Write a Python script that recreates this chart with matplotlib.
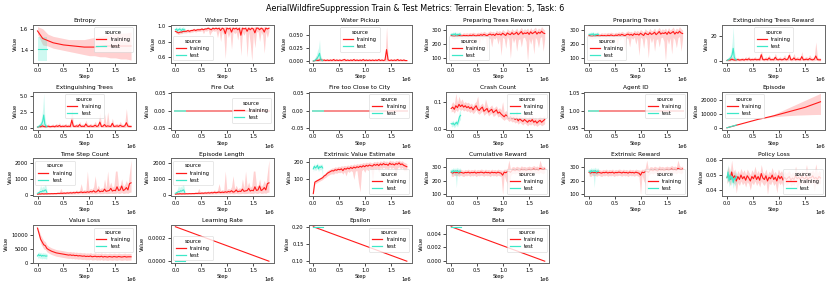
import numpy as np
import matplotlib
matplotlib.use("Agg")
import matplotlib.pyplot as plt
from matplotlib.lines import Line2D
from matplotlib.ticker import FormatStrFormatter

# ---------------- step grids ----------------
train_steps = np.arange(61) * 30000          # 0 .. 1.8e6
test_steps = np.arange(10) * 20000           # 0 .. 0.18e6
coarse_steps = np.arange(19) * 100000        # 0 .. 1.8e6
episode_steps = np.arange(13) * 150000       # 0 .. 1.8e6
line_steps = [0, 1800000]
line_test_steps = [0, 180000]

# ---------------- Entropy ----------------
entropy_train = [1.58, 1.51, 1.49, 1.47, 1.46, 1.45, 1.445, 1.44, 1.435, 1.43, 1.43, 1.43, 1.435, 1.44, 1.44, 1.44, 1.44, 1.44, 1.44]
entropy_train_lo = [1.55, 1.45, 1.44, 1.42, 1.41, 1.40, 1.39, 1.38, 1.37, 1.36, 1.35, 1.35, 1.34, 1.34, 1.33, 1.33, 1.32, 1.32, 1.31]
entropy_train_hi = [1.62, 1.60, 1.55, 1.53, 1.52, 1.51, 1.50, 1.50, 1.50, 1.50, 1.51, 1.52, 1.53, 1.54, 1.55, 1.55, 1.56, 1.56, 1.57]
entropy_test = [1.41, 1.41, 1.41, 1.41, 1.41, 1.41, 1.41, 1.41, 1.41, 1.41]
entropy_test_lo = [1.30, 1.30, 1.30, 1.30, 1.30, 1.30, 1.30, 1.30, 1.30, 1.30]
entropy_test_hi = [1.52, 1.52, 1.52, 1.52, 1.52, 1.52, 1.52, 1.52, 1.52, 1.52]

# ---------------- Water Drop ----------------
water_drop_train = [0.93, 0.92, 0.91, 0.92, 0.92, 0.93, 0.93, 0.93, 0.94, 0.93,
                    0.94, 0.94, 0.95, 0.94, 0.95, 0.95, 0.95, 0.96, 0.95, 0.96,
                    0.96, 0.97, 0.96, 0.95, 0.97, 0.96, 0.97, 0.96, 0.97, 0.94,
                    0.97, 0.96, 0.90, 0.97, 0.96, 0.97, 0.92, 0.97, 0.96, 0.97,
                    0.95, 0.97, 0.88, 0.97, 0.96, 0.97, 0.93, 0.97, 0.95, 0.97,
                    0.96, 0.91, 0.97, 0.97, 0.95, 0.97, 0.96, 0.92, 0.97, 0.96,
                    0.97]
water_drop_train_lo = [0.91, 0.90, 0.89, 0.90, 0.90, 0.91, 0.91, 0.91, 0.92, 0.91,
                       0.92, 0.92, 0.93, 0.92, 0.93, 0.93, 0.93, 0.94, 0.90, 0.94,
                       0.93, 0.95, 0.88, 0.92, 0.94, 0.93, 0.94, 0.85, 0.94, 0.80,
                       0.93, 0.88, 0.58, 0.93, 0.85, 0.92, 0.70, 0.93, 0.90, 0.92,
                       0.82, 0.93, 0.62, 0.92, 0.88, 0.93, 0.60, 0.92, 0.78, 0.55,
                       0.90, 0.72, 0.92, 0.93, 0.80, 0.92, 0.88, 0.65, 0.92, 0.85,
                       0.93]
water_drop_train_hi = [0.95, 0.94, 0.93, 0.94, 0.94, 0.95, 0.95, 0.95, 0.96, 0.95,
                       0.96, 0.96, 0.97, 0.96, 0.97, 0.97, 0.97, 0.98, 0.97, 0.98,
                       0.98, 0.99, 0.98, 0.97, 0.99, 0.98, 0.99, 0.98, 0.99, 0.98,
                       0.99, 0.98, 0.99, 0.99, 0.98, 0.99, 0.98, 0.99, 0.98, 0.99,
                       0.98, 0.99, 0.98, 0.99, 0.98, 0.99, 0.98, 0.99, 0.98, 0.99,
                       0.98, 0.99, 0.99, 0.99, 0.98, 0.99, 0.98, 0.99, 0.99, 0.98,
                       0.99]
water_drop_test = [0.95, 0.96, 0.94, 0.95, 0.96, 0.95, 0.94, 0.96, 0.95, 0.95]
water_drop_test_lo = [0.92, 0.93, 0.91, 0.92, 0.93, 0.92, 0.91, 0.93, 0.92, 0.92]
water_drop_test_hi = [0.98, 0.99, 0.97, 0.98, 0.99, 0.98, 0.97, 0.99, 0.98, 0.98]

# ---------------- Water Pickup ----------------
water_pickup_train = [0.000, 0.001, 0.002, 0.001, 0.002, 0.003, 0.001, 0.002, 0.001, 0.002,
                      0.001, 0.002, 0.001, 0.003, 0.001, 0.002, 0.001, 0.002, 0.001, 0.002,
                      0.003, 0.001, 0.002, 0.001, 0.002, 0.001, 0.003, 0.001, 0.002, 0.001,
                      0.002, 0.001, 0.003, 0.001, 0.002, 0.001, 0.002, 0.001, 0.002, 0.001,
                      0.002, 0.001, 0.003, 0.001, 0.002, 0.001, 0.002, 0.022, 0.002, 0.001,
                      0.002, 0.001, 0.002, 0.001, 0.003, 0.001, 0.002, 0.001, 0.002, 0.001,
                      0.001]
water_pickup_train_lo = [0.0, 0.0, 0.0, 0.0, 0.0, 0.0, 0.0, 0.0, 0.0, 0.0,
                         0.0, 0.0, 0.0, 0.0, 0.0, 0.0, 0.0, 0.0, 0.0, 0.0,
                         0.0, 0.0, 0.0, 0.0, 0.0, 0.0, 0.0, 0.0, 0.0, 0.0,
                         0.0, 0.0, 0.0, 0.0, 0.0, 0.0, 0.0, 0.0, 0.0, 0.0,
                         0.0, 0.0, 0.0, 0.0, 0.0, 0.0, 0.0, 0.0, 0.0, 0.0,
                         0.0, 0.0, 0.0, 0.0, 0.0, 0.0, 0.0, 0.0, 0.0, 0.0,
                         0.0]
water_pickup_train_hi = [0.002, 0.004, 0.010, 0.004, 0.008, 0.007, 0.004, 0.005, 0.003, 0.005,
                         0.003, 0.005, 0.003, 0.006, 0.003, 0.005, 0.003, 0.005, 0.003, 0.005,
                         0.006, 0.003, 0.005, 0.003, 0.005, 0.003, 0.006, 0.003, 0.005, 0.003,
                         0.005, 0.003, 0.006, 0.003, 0.005, 0.003, 0.005, 0.003, 0.005, 0.003,
                         0.005, 0.003, 0.006, 0.003, 0.005, 0.003, 0.005, 0.066, 0.005, 0.003,
                         0.005, 0.003, 0.005, 0.003, 0.006, 0.003, 0.005, 0.003, 0.005, 0.003,
                         0.002]
water_pickup_test = [0.000, 0.001, 0.002, 0.004, 0.006, 0.010, 0.015, 0.004, 0.002, 0.001]
water_pickup_test_lo = [0.0, 0.0, 0.0, 0.0, 0.0, 0.0, 0.001, 0.0, 0.0, 0.0]
water_pickup_test_hi = [0.002, 0.004, 0.008, 0.012, 0.020, 0.025, 0.041, 0.012, 0.006, 0.003]

# ---------------- Preparing Trees (Reward) ----------------
prep_train = [262, 258, 255, 260, 258, 262, 260, 258, 263, 260,
              262, 258, 264, 260, 266, 262, 258, 265, 262, 268,
              263, 270, 265, 260, 268, 272, 265, 270, 262, 275,
              268, 272, 265, 278, 270, 262, 280, 272, 268, 282,
              270, 275, 285, 268, 278, 290, 272, 280, 276, 284,
              270, 288, 275, 282, 290, 272, 285, 278, 292, 280,
              276]
prep_train_lo = [245, 240, 235, 242, 240, 245, 240, 238, 245, 240,
                 240, 225, 245, 238, 200, 240, 230, 245, 190, 245,
                 230, 248, 240, 150, 245, 240, 180, 248, 235, 250,
                 200, 245, 120, 250, 240, 170, 255, 230, 100, 250,
                 210, 245, 150, 230, 240, 180, 245, 250, 220, 80,
                 240, 200, 245, 130, 250, 230, 175, 245, 255, 150,
                 240]
prep_train_hi = [280, 275, 275, 278, 276, 280, 278, 276, 282, 278,
                 282, 278, 284, 280, 286, 282, 278, 285, 282, 288,
                 283, 292, 285, 280, 290, 295, 288, 292, 282, 300,
                 290, 298, 288, 305, 295, 285, 310, 298, 292, 312,
                 295, 300, 315, 292, 305, 320, 298, 310, 302, 315,
                 295, 318, 300, 310, 322, 298, 315, 305, 325, 310,
                 300]
prep_test = [270, 265, 272, 268, 275, 262, 270, 266, 272, 268]
prep_test_lo = [255, 250, 258, 252, 260, 245, 255, 250, 258, 252]
prep_test_hi = [285, 282, 288, 284, 290, 280, 286, 282, 288, 284]

# ---------------- Extinguishing Trees Reward ----------------
ext_reward_train = [0.5, 1.0, 0.8, 1.5, 1.0, 0.8, 1.0, 1.2, 0.8, 1.0,
                    1.2, 0.8, 1.5, 1.0, 1.8, 0.9, 1.2, 1.0, 1.5, 1.0,
                    1.2, 1.0, 5.0, 1.2, 1.0, 1.5, 1.0, 2.5, 1.0, 1.2,
                    1.0, 3.0, 1.2, 1.0, 1.5, 1.0, 1.2, 2.0, 1.0, 1.5,
                    4.5, 1.0, 1.2, 2.5, 1.0, 1.5, 1.2, 1.0, 3.5, 1.0,
                    1.2, 1.5, 1.0, 2.0, 1.2, 1.0, 1.5, 4.0, 1.2, 1.0,
                    1.0]
ext_reward_train_lo = [0.0, 0.2, 0.1, 0.3, 0.2, 0.1, 0.2, 0.3, 0.1, 0.2,
                       0.3, 0.1, 0.3, 0.2, 0.4, 0.1, 0.3, 0.2, 0.3, 0.2,
                       0.3, 0.2, 1.0, 0.3, 0.2, 0.3, 0.2, 0.5, 0.2, 0.3,
                       0.2, 0.6, 0.3, 0.2, 0.3, 0.2, 0.3, 0.4, 0.2, 0.3,
                       0.9, 0.2, 0.3, 0.5, 0.2, 0.3, 0.3, 0.2, 0.7, 0.2,
                       0.3, 0.3, 0.2, 0.4, 0.3, 0.2, 0.3, 0.8, 0.3, 0.2,
                       0.2]
ext_reward_train_hi = [1.5, 2.5, 2.0, 3.5, 2.5, 2.0, 2.5, 3.0, 2.0, 2.5,
                       3.0, 2.0, 3.5, 2.5, 4.0, 2.2, 3.0, 2.5, 3.5, 2.5,
                       3.0, 2.5, 9.0, 3.0, 2.5, 3.5, 2.5, 5.0, 2.5, 3.0,
                       2.5, 6.0, 3.0, 2.5, 3.5, 2.5, 3.0, 5.0, 2.5, 3.5,
                       7.0, 2.5, 3.0, 6.0, 2.5, 3.5, 3.0, 2.5, 7.5, 2.5,
                       3.0, 3.5, 2.5, 5.0, 3.0, 2.5, 3.5, 15.0, 3.0, 2.5,
                       2.5]
ext_reward_test = [0.5, 1.0, 1.5, 2.0, 3.0, 5.0, 10.0, 3.0, 1.5, 1.0]
ext_reward_test_lo = [0.0, 0.2, 0.3, 0.5, 0.8, 1.0, 2.0, 0.8, 0.3, 0.2]
ext_reward_test_hi = [1.0, 2.5, 3.5, 5.0, 8.0, 15.0, 27.0, 9.0, 4.0, 2.0]

# ---------------- Extinguishing Trees ----------------
ext_trees_train = [0.10, 0.20, 0.16, 0.30, 0.20, 0.16, 0.20, 0.24, 0.16, 0.20,
                   0.24, 0.16, 0.30, 0.20, 0.36, 0.18, 0.24, 0.20, 0.30, 0.20,
                   0.24, 0.20, 1.20, 0.24, 0.20, 0.30, 0.20, 0.50, 0.20, 0.24,
                   0.20, 0.60, 0.24, 0.20, 0.30, 0.20, 0.24, 0.40, 0.20, 0.30,
                   0.90, 0.20, 0.24, 0.50, 0.20, 0.30, 0.24, 0.20, 0.70, 0.20,
                   0.24, 0.30, 0.20, 0.40, 0.24, 0.20, 0.30, 0.80, 0.24, 0.20,
                   0.20]
ext_trees_train_lo = [0.00, 0.04, 0.02, 0.06, 0.04, 0.02, 0.04, 0.06, 0.02, 0.04,
                      0.06, 0.02, 0.06, 0.04, 0.08, 0.02, 0.06, 0.04, 0.06, 0.04,
                      0.06, 0.04, 0.20, 0.06, 0.04, 0.06, 0.04, 0.10, 0.04, 0.06,
                      0.04, 0.12, 0.06, 0.04, 0.06, 0.04, 0.06, 0.08, 0.04, 0.06,
                      0.18, 0.04, 0.06, 0.10, 0.04, 0.06, 0.06, 0.04, 0.14, 0.04,
                      0.06, 0.06, 0.04, 0.08, 0.06, 0.04, 0.06, 0.16, 0.06, 0.04,
                      0.04]
ext_trees_train_hi = [0.30, 0.50, 0.40, 0.70, 0.50, 0.40, 0.50, 0.60, 0.40, 0.50,
                      0.60, 0.40, 0.70, 0.50, 0.80, 0.44, 0.60, 0.50, 0.70, 0.50,
                      0.60, 0.50, 3.20, 0.60, 0.50, 0.70, 0.50, 1.00, 0.50, 0.60,
                      0.50, 1.20, 0.60, 0.50, 0.70, 0.50, 0.60, 1.00, 0.50, 0.70,
                      2.40, 0.50, 0.60, 2.20, 0.50, 2.50, 0.60, 0.50, 1.50, 0.50,
                      0.60, 0.70, 0.50, 1.00, 0.60, 0.50, 0.70, 3.00, 0.60, 0.50,
                      0.50]
ext_trees_test = [0.10, 0.20, 0.30, 0.40, 0.60, 1.00, 2.00, 0.60, 0.30, 0.20]
ext_trees_test_lo = [0.00, 0.04, 0.06, 0.10, 0.16, 0.20, 0.40, 0.16, 0.06, 0.04]
ext_trees_test_hi = [0.20, 0.50, 0.70, 1.00, 1.60, 3.00, 5.40, 1.80, 0.80, 0.40]

# ---------------- Crash Count ----------------
crash_train = [0.075, 0.080, 0.072, 0.085, 0.078, 0.090, 0.082, 0.088, 0.080, 0.085,
               0.078, 0.082, 0.075, 0.080, 0.070, 0.078, 0.085, 0.072, 0.068, 0.075,
               0.080, 0.065, 0.070, 0.075, 0.062, 0.068, 0.072, 0.060, 0.065, 0.070,
               0.058, 0.062, 0.055, 0.050, 0.045, 0.052, 0.048, 0.040, 0.045, 0.038,
               0.042, 0.035, 0.040, 0.030, 0.038, 0.032, 0.028, 0.035, 0.030, 0.025,
               0.032, 0.028, 0.035, 0.025, 0.030, 0.022, 0.028, 0.032, 0.025, 0.030,
               0.035]
crash_train_lo = [0.062, 0.066, 0.058, 0.070, 0.064, 0.075, 0.068, 0.072, 0.066, 0.070,
                  0.064, 0.067, 0.060, 0.065, 0.056, 0.062, 0.070, 0.058, 0.054, 0.060,
                  0.065, 0.050, 0.056, 0.060, 0.048, 0.054, 0.058, 0.046, 0.050, 0.056,
                  0.044, 0.048, 0.042, 0.036, 0.032, 0.038, 0.035, 0.028, 0.032, 0.026,
                  0.028, 0.022, 0.026, 0.018, 0.025, 0.020, 0.015, 0.022, 0.018, 0.012,
                  0.018, 0.015, 0.020, 0.012, 0.016, 0.010, 0.015, 0.018, 0.012, 0.016,
                  0.020]
crash_train_hi = [0.090, 0.100, 0.090, 0.130, 0.095, 0.120, 0.100, 0.110, 0.095, 0.100,
                  0.095, 0.098, 0.090, 0.095, 0.085, 0.095, 0.100, 0.120, 0.082, 0.090,
                  0.095, 0.080, 0.110, 0.090, 0.076, 0.082, 0.088, 0.075, 0.080, 0.085,
                  0.072, 0.078, 0.070, 0.100, 0.060, 0.068, 0.062, 0.055, 0.060, 0.052,
                  0.058, 0.050, 0.070, 0.045, 0.052, 0.047, 0.042, 0.050, 0.045, 0.040,
                  0.048, 0.042, 0.050, 0.040, 0.045, 0.036, 0.042, 0.048, 0.040, 0.046,
                  0.050]
crash_test = [0.020, 0.018, 0.022, 0.015, 0.020, 0.025, 0.018, 0.030, 0.045, 0.050]
crash_test_lo = [0.010, 0.008, 0.012, 0.005, 0.010, 0.015, 0.008, 0.018, 0.030, 0.035]
crash_test_hi = [0.030, 0.028, 0.032, 0.025, 0.030, 0.035, 0.028, 0.050, 0.065, 0.070]

# ---------------- Episode ----------------
episode_train = [0, 1500, 3000, 4500, 6000, 7200, 8500, 10000, 11500, 13000, 14500, 16500, 18500]
episode_train_lo = [0, 1500, 3000, 4500, 6000, 7000, 7800, 8300, 8700, 9000, 9200, 9400, 9500]
episode_train_hi = [0, 1500, 3000, 4500, 6000, 7500, 9500, 12000, 14500, 17000, 19500, 22000, 24500]
episode_test = [0, 220, 440, 660, 880, 1100, 1320, 1540, 1760, 1980]
episode_test_lo = [0, 200, 400, 600, 800, 1000, 1200, 1400, 1600, 1800]
episode_test_hi = [0, 240, 480, 720, 960, 1200, 1440, 1680, 1920, 2160]

# ---------------- Time Step Count / Episode Length ----------------
tsc_train = [30, 50, 40, 60, 45, 55, 50, 60, 55, 65,
             60, 70, 65, 80, 75, 90, 80, 100, 85, 110,
             95, 120, 100, 130, 110, 150, 120, 140, 170, 130,
             160, 140, 180, 150, 200, 170, 250, 160, 190, 300,
             180, 220, 200, 350, 210, 240, 260, 400, 230, 280,
             250, 500, 270, 300, 550, 260, 320, 450, 300, 700,
             750]
tsc_train_lo = [10, 20, 15, 20, 15, 20, 15, 20, 20, 25,
                20, 25, 20, 30, 25, 30, 30, 35, 30, 40,
                35, 40, 35, 45, 40, 50, 45, 50, 55, 45,
                50, 45, 60, 50, 65, 55, 70, 50, 60, 80,
                55, 65, 60, 90, 65, 70, 75, 100, 70, 80,
                75, 120, 80, 85, 130, 75, 90, 110, 85, 150,
                160]
tsc_train_hi = [60, 100, 80, 120, 90, 110, 100, 120, 110, 130,
                120, 140, 130, 160, 150, 400, 160, 200, 170, 220,
                190, 240, 200, 260, 220, 300, 240, 280, 700, 260,
                320, 280, 1500, 300, 400, 340, 500, 1200, 380, 600,
                360, 440, 400, 1000, 420, 1500, 520, 800, 460, 560,
                1500, 1500, 540, 600, 1000, 520, 640, 900, 600, 1400,
                2200]
tsc_test = [80, 120, 150, 200, 180, 250, 220, 280, 300, 150]
tsc_test_lo = [30, 50, 60, 80, 70, 90, 80, 100, 110, 60]
tsc_test_hi = [150, 250, 350, 600, 400, 550, 450, 650, 600, 300]

# ---------------- Extrinsic Value Estimate ----------------
eve_train = [20, 85, 90, 95, 100, 105, 110, 120, 125, 135,
             140, 145, 150, 148, 155, 152, 158, 155, 160, 150,
             162, 158, 165, 160, 168, 162, 170, 165, 172, 168,
             175, 170, 178, 172, 180, 175, 182, 178, 176, 185,
             180, 186, 178, 188, 182, 190, 184, 186, 180, 192,
             185, 188, 182, 190, 186, 194, 184, 188, 180, 176,
             172]
eve_train_lo = [15, 75, 80, 85, 90, 95, 100, 108, 112, 120,
                125, 130, 132, 130, 138, 135, 140, 138, 142, 130,
                145, 120, 148, 140, 150, 145, 100, 148, 150, 80,
                30, 150, 158, 140, 160, 150, 162, 155, 90, 165,
                155, 165, 140, 168, 160, 170, 162, 165, 155, 172,
                160, 168, 160, 120, 165, 172, 160, 168, 150, 150,
                150]
eve_train_hi = [25, 95, 100, 105, 110, 115, 122, 132, 138, 150,
                155, 160, 165, 165, 172, 168, 175, 172, 178, 175,
                180, 176, 182, 178, 185, 180, 188, 184, 190, 186,
                192, 190, 196, 192, 198, 194, 200, 196, 194, 202,
                198, 204, 196, 206, 200, 208, 202, 204, 198, 210,
                204, 206, 200, 208, 204, 210, 202, 206, 198, 194,
                190]
eve_test = [160, 175, 165, 170, 180, 160, 172, 168, 175, 165]
eve_test_lo = [145, 160, 150, 155, 165, 145, 158, 152, 160, 110]
eve_test_hi = [175, 190, 180, 185, 195, 178, 188, 182, 190, 180]

# ---------------- Cumulative / Extrinsic Reward ----------------
cum_train = [260, 255, 262, 258, 260, 256, 262, 258, 255, 260,
             258, 262, 256, 260, 258, 262, 255, 260, 258, 262,
             260, 256, 262, 258, 260, 255, 262, 258, 260, 256,
             262, 258, 255, 240, 262, 258, 265, 270, 260, 275,
             278, 272, 280, 275, 270, 282, 276, 280, 274, 278,
             282, 276, 280, 285, 278, 282, 275, 290, 284, 280,
             285]
cum_train_lo = [235, 230, 240, 235, 238, 232, 240, 235, 230, 238,
                235, 240, 232, 238, 235, 240, 230, 238, 235, 240,
                238, 232, 240, 235, 238, 230, 240, 235, 238, 232,
                240, 235, 230, 100, 240, 200, 180, 100, 235, 250,
                255, 248, 258, 250, 245, 260, 252, 256, 248, 255,
                258, 250, 256, 262, 252, 258, 248, 262, 255, 250,
                260]
cum_train_hi = [280, 275, 282, 278, 282, 276, 284, 278, 275, 282,
                278, 284, 276, 282, 278, 284, 275, 282, 278, 284,
                282, 276, 284, 278, 282, 275, 284, 278, 282, 276,
                284, 280, 278, 275, 284, 282, 290, 350, 285, 300,
                302, 296, 305, 300, 296, 308, 300, 304, 298, 302,
                306, 300, 304, 310, 302, 306, 300, 350, 308, 302,
                306]
cum_test = [270, 260, 275, 265, 272, 268, 275, 262, 270, 268]
cum_test_lo = [250, 240, 255, 245, 240, 150, 255, 240, 250, 248]
cum_test_hi = [290, 285, 295, 288, 292, 290, 298, 285, 292, 290]

# ---------------- Policy Loss ----------------
policy_train = [0.0485, 0.0500, 0.0470, 0.0520, 0.0480, 0.0495, 0.0460, 0.0490, 0.0470, 0.0500,
                0.0475, 0.0490, 0.0465, 0.0495, 0.0480, 0.0460, 0.0490, 0.0475, 0.0500, 0.0470,
                0.0490, 0.0465, 0.0510, 0.0480, 0.0470, 0.0495, 0.0460, 0.0485, 0.0475, 0.0500,
                0.0470, 0.0485, 0.0460, 0.0495, 0.0475, 0.0490, 0.0465, 0.0485, 0.0470, 0.0480,
                0.0490, 0.0465, 0.0480, 0.0470, 0.0495, 0.0475, 0.0485, 0.0470, 0.0490, 0.0480,
                0.0475, 0.0490, 0.0470, 0.0485, 0.0480, 0.0495, 0.0475, 0.0485, 0.0470, 0.0490,
                0.0480]
policy_train_lo = [0.0445, 0.0460, 0.0430, 0.0470, 0.0440, 0.0450, 0.0380, 0.0450, 0.0430, 0.0460,
                   0.0435, 0.0450, 0.0420, 0.0455, 0.0440, 0.0400, 0.0450, 0.0435, 0.0460, 0.0430,
                   0.0450, 0.0420, 0.0460, 0.0440, 0.0430, 0.0455, 0.0370, 0.0445, 0.0435, 0.0460,
                   0.0430, 0.0445, 0.0380, 0.0455, 0.0435, 0.0450, 0.0420, 0.0445, 0.0430, 0.0440,
                   0.0450, 0.0425, 0.0440, 0.0430, 0.0455, 0.0400, 0.0445, 0.0430, 0.0450, 0.0440,
                   0.0435, 0.0450, 0.0430, 0.0445, 0.0440, 0.0455, 0.0390, 0.0445, 0.0430, 0.0450,
                   0.0440]
policy_train_hi = [0.0530, 0.0560, 0.0510, 0.0600, 0.0520, 0.0540, 0.0500, 0.0530, 0.0510, 0.0545,
                   0.0515, 0.0535, 0.0505, 0.0540, 0.0520, 0.0500, 0.0535, 0.0515, 0.0560, 0.0510,
                   0.0530, 0.0505, 0.0570, 0.0520, 0.0510, 0.0540, 0.0500, 0.0525, 0.0515, 0.0550,
                   0.0510, 0.0525, 0.0500, 0.0540, 0.0515, 0.0530, 0.0505, 0.0525, 0.0510, 0.0520,
                   0.0530, 0.0505, 0.0520, 0.0510, 0.0560, 0.0515, 0.0525, 0.0510, 0.0530, 0.0520,
                   0.0515, 0.0570, 0.0510, 0.0525, 0.0520, 0.0535, 0.0515, 0.0575, 0.0510, 0.0530,
                   0.0520]
policy_test = [0.048, 0.052, 0.046, 0.050, 0.047, 0.049, 0.045, 0.048, 0.047, 0.049]
policy_test_lo = [0.044, 0.047, 0.042, 0.045, 0.043, 0.045, 0.041, 0.044, 0.043, 0.045]
policy_test_hi = [0.053, 0.057, 0.050, 0.055, 0.051, 0.053, 0.049, 0.052, 0.051, 0.053]

# ---------------- Value Loss ----------------
vloss_train = [12500, 10500, 8500, 7500, 6500, 6200, 5200, 4800, 4500, 4200,
               4000, 3800, 3600, 3500, 3400, 3300, 3200, 3100, 3000, 2900,
               2800, 2900, 2700, 2800, 2600, 2700, 2500, 2600, 2500, 2400,
               2500, 2300, 2400, 2300, 2500, 2200, 2300, 2400, 2200, 2300,
               2200, 2400, 2100, 2300, 2200, 2100, 2300, 2200, 2100, 2300,
               2200, 2100, 2300, 2200, 2100, 2200, 2300, 2100, 2200, 2200,
               2200]
vloss_train_lo = [12000, 9500, 7000, 6000, 5000, 4800, 4000, 3600, 3300, 3000,
                  2800, 2600, 2400, 2300, 2200, 2100, 2000, 1900, 1800, 1700,
                  1600, 1700, 1500, 1600, 1400, 1500, 1300, 1400, 1300, 1200,
                  1300, 1100, 1200, 1100, 1300, 1000, 1100, 1200, 1000, 1100,
                  1000, 1200, 900, 1100, 1000, 900, 1100, 1000, 900, 1100,
                  1000, 900, 1100, 1000, 900, 1000, 1100, 900, 1000, 1000,
                  1000]
vloss_train_hi = [13000, 11500, 10000, 9000, 8000, 7600, 6500, 6000, 5700, 5400,
                  5200, 5000, 4800, 4700, 4600, 4500, 4400, 4300, 4200, 4100,
                  4000, 4100, 3900, 4000, 3800, 3900, 3700, 3800, 3700, 3600,
                  3700, 3500, 3600, 3500, 3700, 3400, 3500, 3600, 3400, 3500,
                  3400, 3600, 3300, 3500, 3400, 3300, 3500, 3400, 3300, 3500,
                  3400, 3300, 3500, 3400, 3300, 3400, 3500, 3300, 3400, 3400,
                  3400]
vloss_test = [2500, 3000, 2600, 2800, 2400, 2700, 2500, 2600, 2400, 2500]
vloss_test_lo = [1500, 2000, 1600, 1800, 1400, 1700, 1500, 1600, 1400, 1500]
vloss_test_hi = [3500, 4000, 3600, 3800, 3400, 3700, 3500, 3600, 3400, 3500]

# ---------------- schedules / constants ----------------
lr_train = [0.0003, 0.0]
lr_test = [0.0, 0.0]
eps_train = [0.2, 0.1]
eps_test = [0.2, 0.2]
beta_train = [0.005, 0.0]
beta_test = [0.005, 0.005]
fire_out_train = [0.0, 0.0]
fire_out_test = [0.0, 0.0]
fire_city_train = [0.0, 0.0]
fire_city_test = [0.0, 0.0]
agent_id_train = [1.0, 1.0]
agent_id_test = [1.0, 1.0]

# y tick labels as they appear on each panel
yticks = {
    "Entropy": [1.4, 1.6],
    "Water Drop": [0.6, 0.8, 1.0],
    "Water Pickup": [0.0, 0.025, 0.05],
    "Preparing Trees Reward": [100, 200, 300],
    "Preparing Trees": [100, 200, 300],
    "Extinguishing Trees Reward": [0, 20],
    "Extinguishing Trees": [0.0, 2.5, 5.0],
    "Fire Out": [-0.05, 0.0, 0.05],
    "Fire too Close to City": [-0.05, 0.0, 0.05],
    "Crash Count": [0.0, 0.1],
    "Agent ID": [0.95, 1.0, 1.05],
    "Episode": [0, 10000, 20000],
    "Time Step Count": [0, 1000, 2000],
    "Episode Length": [0, 1000, 2000],
    "Extrinsic Value Estimate": [100, 200],
    "Cumulative Reward": [100, 200, 300],
    "Extrinsic Reward": [100, 200, 300],
    "Policy Loss": [0.04, 0.05, 0.06],
    "Value Loss": [0, 5000, 10000],
    "Learning Rate": [0.0, 0.0002],
    "Epsilon": [0.10, 0.15, 0.20],
    "Beta": [0.0, 0.002, 0.004],
}

TRAIN_C = "#ff1a1a"
TEST_C = "#3de8c8"
FLAT_TRAIN_C = "#f78a8a"
FLAT_TEST_C = "#7ee6cc"

# (title, train x, train y, lo, hi, test x, test y, lo, hi, legend loc, flat)
panels = [
    ("Entropy", coarse_steps, entropy_train, entropy_train_lo, entropy_train_hi, test_steps, entropy_test, entropy_test_lo, entropy_test_hi, "upper right", False),
    ("Water Drop", train_steps, water_drop_train, water_drop_train_lo, water_drop_train_hi, test_steps, water_drop_test, water_drop_test_lo, water_drop_test_hi, "lower left", False),
    ("Water Pickup", train_steps, water_pickup_train, water_pickup_train_lo, water_pickup_train_hi, test_steps, water_pickup_test, water_pickup_test_lo, water_pickup_test_hi, "upper center", False),
    ("Preparing Trees Reward", train_steps, prep_train, prep_train_lo, prep_train_hi, test_steps, prep_test, prep_test_lo, prep_test_hi, "lower left", False),
    ("Preparing Trees", train_steps, prep_train, prep_train_lo, prep_train_hi, test_steps, prep_test, prep_test_lo, prep_test_hi, "lower left", False),
    ("Extinguishing Trees Reward", train_steps, ext_reward_train, ext_reward_train_lo, ext_reward_train_hi, test_steps, ext_reward_test, ext_reward_test_lo, ext_reward_test_hi, "upper center", False),
    ("Extinguishing Trees", train_steps, ext_trees_train, ext_trees_train_lo, ext_trees_train_hi, test_steps, ext_trees_test, ext_trees_test_lo, ext_trees_test_hi, "upper center", False),
    ("Fire Out", line_steps, fire_out_train, None, None, line_test_steps, fire_out_test, None, None, "center right", True),
    ("Fire too Close to City", line_steps, fire_city_train, None, None, line_test_steps, fire_city_test, None, None, "upper right", True),
    ("Crash Count", train_steps, crash_train, crash_train_lo, crash_train_hi, test_steps, crash_test, crash_test_lo, crash_test_hi, "upper right", False),
    ("Agent ID", line_steps, agent_id_train, None, None, line_test_steps, agent_id_test, None, None, "upper right", True),
    ("Episode", episode_steps, episode_train, episode_train_lo, episode_train_hi, test_steps, episode_test, episode_test_lo, episode_test_hi, "upper left", False),
    ("Time Step Count", train_steps, tsc_train, tsc_train_lo, tsc_train_hi, test_steps, tsc_test, tsc_test_lo, tsc_test_hi, "upper left", False),
    ("Episode Length", train_steps, tsc_train, tsc_train_lo, tsc_train_hi, test_steps, tsc_test, tsc_test_lo, tsc_test_hi, "upper left", False),
    ("Extrinsic Value Estimate", train_steps, eve_train, eve_train_lo, eve_train_hi, test_steps, eve_test, eve_test_lo, eve_test_hi, "lower right", False),
    ("Cumulative Reward", train_steps, cum_train, cum_train_lo, cum_train_hi, test_steps, cum_test, cum_test_lo, cum_test_hi, "lower right", False),
    ("Extrinsic Reward", train_steps, cum_train, cum_train_lo, cum_train_hi, test_steps, cum_test, cum_test_lo, cum_test_hi, "lower right", False),
    ("Policy Loss", train_steps, policy_train, policy_train_lo, policy_train_hi, test_steps, policy_test, policy_test_lo, policy_test_hi, "lower right", False),
    ("Value Loss", train_steps, vloss_train, vloss_train_lo, vloss_train_hi, test_steps, vloss_test, vloss_test_lo, vloss_test_hi, "upper right", False),
    ("Learning Rate", line_steps, lr_train, None, None, line_test_steps, lr_test, None, None, "lower left", False),
    ("Epsilon", line_steps, eps_train, None, None, line_test_steps, eps_test, None, None, "upper right", False),
    ("Beta", line_steps, beta_train, None, None, line_test_steps, beta_test, None, None, "upper right", False),
]

tick_fmt = {
    "Water Pickup": "%.3f", "Fire Out": "%.2f", "Fire too Close to City": "%.2f",
    "Agent ID": "%.2f", "Policy Loss": "%.2f", "Learning Rate": "%.4f",
    "Epsilon": "%.2f", "Beta": "%.3f", "Entropy": "%.1f", "Water Drop": "%.1f",
    "Extinguishing Trees": "%.1f", "Crash Count": "%.1f",
}

plt.rcParams["font.family"] = ["DejaVu Sans"]
fig, axes = plt.subplots(4, 6, figsize=(8.31, 2.83), dpi=100)
fig.subplots_adjust(left=0.0395, right=0.993, top=0.912, bottom=0.071, wspace=0.34, hspace=0.76)
fig.suptitle("AerialWildfireSuppression Train & Test Metrics: Terrain Elevation: 5, Task: 6",
             fontsize=5.8, y=0.985)

FS = 3.7
for idx, ax in enumerate(axes.flat):
    if idx >= len(panels):
        ax.axis("off")
        continue
    (title, tx, ty, tlo, thi, sx, sy, slo, shi, loc, flat) = panels[idx]
    tc = FLAT_TRAIN_C if flat else TRAIN_C
    sc = FLAT_TEST_C if flat else TEST_C
    if tlo is not None:
        ax.fill_between(tx, tlo, thi, color=TRAIN_C, alpha=0.2, lw=0)
    ax.plot(tx, ty, color=tc, lw=1.4 if flat else 0.8)
    if slo is not None:
        ax.fill_between(sx, slo, shi, color=TEST_C, alpha=0.25, lw=0)
    ax.plot(sx, sy, color=sc, lw=1.4 if flat else 0.8)
    ax.set_title(title, fontsize=4.2, pad=2)
    ax.set_xlabel("Step", fontsize=FS, labelpad=1)
    ax.set_ylabel("Value", fontsize=FS, labelpad=1.5)
    ax.set_xticks([0, 500000, 1000000, 1500000])
    ax.set_yticks(yticks[title])
    if title in tick_fmt:
        ax.yaxis.set_major_formatter(FormatStrFormatter(tick_fmt[title]))
    ax.tick_params(labelsize=FS, length=2, width=0.5, pad=1.5)
    ax.xaxis.get_offset_text().set_fontsize(FS)
    ax.yaxis.get_offset_text().set_fontsize(FS)
    for s in ax.spines.values():
        s.set_linewidth(0.7)
        s.set_color("0.4")
    handles = [Line2D([], [], color=TRAIN_C, lw=0.9), Line2D([], [], color=TEST_C, lw=0.9)]
    leg = ax.legend(handles, ["training", "test"], title="source", loc=loc,
                    fontsize=FS, title_fontsize=FS, frameon=True, handlelength=2.0,
                    borderpad=0.5, labelspacing=0.4, handletextpad=0.8)
    leg.get_frame().set_linewidth(0.4)

fig.savefig("out.png", dpi=100)
